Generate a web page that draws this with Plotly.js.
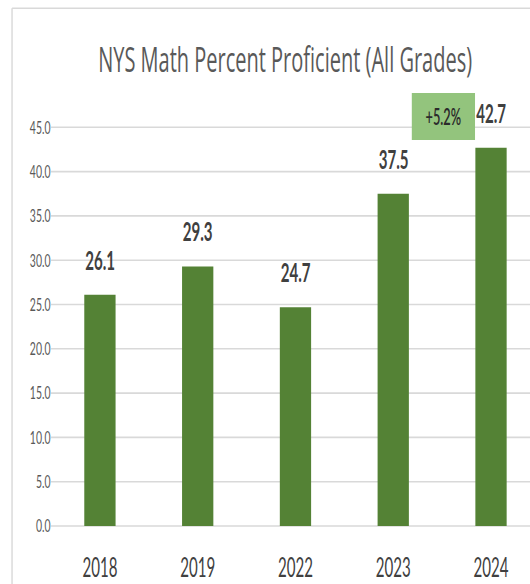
<!DOCTYPE html>
<html>
<head>
<meta charset="utf-8">
<script src="https://cdn.plot.ly/plotly-3.0.1.min.js"></script>
<style>
html,body{margin:0;padding:0;background:#fff;overflow:hidden;width:530px;height:584px;}
#chart{transform-origin:0 0;}
</style>
</head>
<body>
<div id="chart"></div>
<script>
const years = ["2018", "2019", "2022", "2023", "2024"];
const proficient = [26.1, 29.3, 24.7, 37.5, 42.7];
const yTicks = [0, 5, 10, 15, 20, 25, 30, 35, 40, 45];
const yTickLabels = ["0.0", "5.0", "10.0", "15.0", "20.0", "25.0", "30.0", "35.0", "40.0", "45.0"];
const changeLabel = "+5.2%";
const changeIndex = 3;
const changeValue = 42.7;

// The reference text is strongly condensed; draw wide and squeeze horizontally.
const S = 0.58;
const W = 530 / S;
document.getElementById("chart").style.transform = "scaleX(" + S + ")";
document.getElementById("chart").style.width = W + "px";

const font = "Lato, 'Open Sans', sans-serif";
const titleFont = "'Open Sans', Lato, sans-serif";

const trace = {
  type: "bar",
  x: years,
  y: proficient,
  marker: {color: "#548235"},
  hoverinfo: "x+y"
};

const valueAnnotations = years.map((yr, i) => ({
  x: i, y: proficient[i], xref: "x", yref: "y",
  text: "<b>" + proficient[i].toFixed(1) + "</b>",
  showarrow: false, xanchor: "center", yanchor: "middle", yshift: 35,
  font: {family: font, size: 26, color: "#404040"}
}));

const changeAnnotation = {
  x: changeIndex, y: changeValue, xref: "x", yref: "y",
  text: changeLabel,
  showarrow: false, xanchor: "center", yanchor: "bottom",
  xshift: 50.4 / S, yshift: 7.7,
  width: 63 / S, height: 47,
  borderpad: 0, borderwidth: 0,
  bgcolor: "#93c47d",
  font: {family: font, size: 22, color: "#2b2b2b", weight: 600}
};

const layout = {
  width: W, height: 584,
  margin: {l: 51 / S, r: 0, t: 83, b: 58},
  paper_bgcolor: "#ffffff",
  plot_bgcolor: "#ffffff",
  showlegend: false,
  bargap: 0.68,
  title: {
    text: "NYS Math Percent Proficient (All Grades)",
    x: 0.538, xanchor: "center", y: 0.898, yanchor: "middle",
    font: {family: titleFont, size: 34.5, color: "#595959"}
  },
  xaxis: {
    type: "category",
    range: [-0.5, 4.4],
    showgrid: false, zeroline: false, showline: false,
    ticks: "",
    ticklabelstandoff: 24,
    tickfont: {family: font, size: 26, color: "#404040"}
  },
  yaxis: {
    range: [0, 50],
    tickvals: yTicks,
    ticktext: yTickLabels,
    showgrid: true, gridcolor: "#d9d9d9", gridwidth: 1.6,
    zeroline: true, zerolinecolor: "#d9d9d9", zerolinewidth: 1.6,
    showline: false, ticks: "",
    ticklabelstandoff: 9 / S,
    tickfont: {family: font, size: 18, color: "#595959"}
  },
  annotations: valueAnnotations.concat([changeAnnotation]),
  shapes: [
    {type: "line", xref: "paper", yref: "paper", x0: -0.0814, x1: -0.0814, y0: 1.169, y1: -0.2, line: {color: "#d9d9d9", width: 2.5}},
    {type: "line", xref: "paper", yref: "paper", x0: -0.0814, x1: 1.1, y0: 1.169, y1: 1.169, line: {color: "#d9d9d9", width: 1.5}}
  ]
};

Plotly.newPlot("chart", [trace], layout, {displayModeBar: false, staticPlot: true});
</script>
</body>
</html>
